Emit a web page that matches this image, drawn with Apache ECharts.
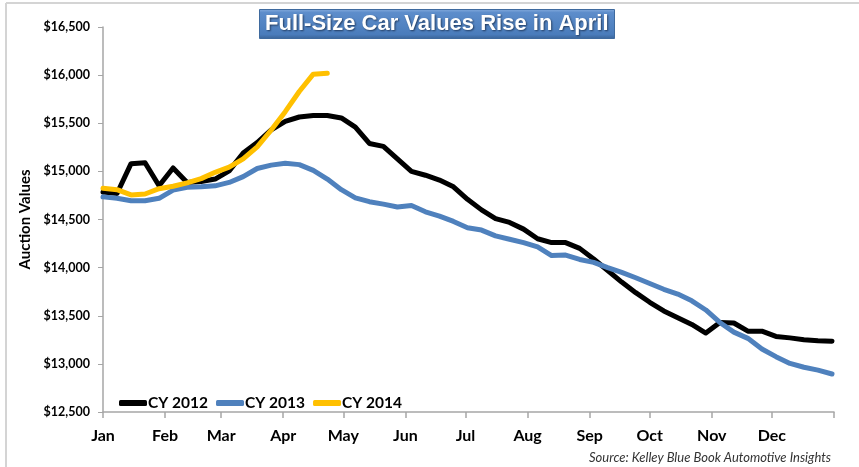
<!DOCTYPE html>
<html>
<head>
<meta charset="utf-8">
<title>Full-Size Car Values Rise in April</title>
<script src="https://cdn.jsdelivr.net/npm/echarts@6/dist/echarts.min.js"></script>
<style>
    html, body { margin: 0; padding: 0; background: #fff; }
    #chart { width: 859px; height: 467px; }
</style>
</head>
<body>
<div id="chart"></div>
<script>
// month names and the day of year each month starts on
const months = ['Jan', 'Feb', 'Mar', 'Apr', 'May', 'Jun', 'Jul', 'Aug', 'Sep', 'Oct', 'Nov', 'Dec']
const monthStart = [0, 31, 59, 90, 120, 151, 181, 212, 243, 273, 304, 334, 365]

// weekly auction values
const cy2012 = [
    14785, 14770, 15080, 15090, 14850, 15035, 14885, 14895, 14920, 15005,
    15190, 15300, 15430, 15520, 15565, 15580, 15580, 15555, 15460, 15290,
    15260, 15130, 15000, 14960, 14910, 14840, 14710, 14600, 14510, 14470,
    14400, 14300, 14260, 14260, 14200, 14090, 13970, 13850, 13740, 13640,
    13550, 13480, 13410, 13320, 13430, 13425, 13340, 13340, 13285, 13270,
    13250, 13240, 13235
]
const cy2013 = [
    14735, 14720, 14695, 14695, 14720, 14805, 14835, 14840, 14850, 14885,
    14945, 15030, 15065, 15085, 15070, 15010, 14920, 14810, 14725, 14685,
    14660, 14630, 14645, 14580, 14535, 14480, 14415, 14390, 14330, 14295,
    14260, 14215, 14125, 14130, 14085, 14055, 14000, 13950, 13895, 13835,
    13775, 13725, 13655, 13560, 13430, 13330, 13265, 13155, 13075, 13005,
    12965, 12935, 12895
]
const cy2014 = [
    14825, 14810, 14755, 14765, 14820, 14845, 14880, 14925, 14990, 15045,
    15130, 15255, 15430, 15620, 15830, 16010, 16020
]

// day of year for each weekly point
const weekDays = cy2012.map((v, i) => i * 7)
const toPairs = arr => arr.map((v, i) => [weekDays[i], v])

const myChart = echarts.init(document.getElementById('chart'))

myChart.setOption({
    animation: false,
    title: [
        {
            text: 'Full-Size Car Values Rise in April',
            left: 259,
            top: 9,
            padding: [4, 6, 4, 6],
            backgroundColor: new echarts.graphic.LinearGradient(0, 0, 0, 1, [
                { offset: 0, color: '#86acdd' },
                { offset: 0.12, color: '#5d8dcb' },
                { offset: 0.85, color: '#4a7cbb' },
                { offset: 1, color: '#3a6396' }
            ]),
            borderColor: '#3f6a9e',
            borderWidth: 1,
            textStyle: {
                fontFamily: 'Liberation Sans',
                fontSize: 22,
                fontWeight: 'bold',
                color: '#fff',
                textShadowColor: 'rgba(20,40,70,0.8)',
                textShadowBlur: 2,
                textShadowOffsetX: 1,
                textShadowOffsetY: 1
            }
        },
        {
            text: 'Source: Kelley Blue Book Automotive Insights',
            right: 28,
            top: 451,
            padding: 0,
            textStyle: {
                fontFamily: 'Lato',
                fontSize: 13,
                fontStyle: 'italic',
                fontWeight: 'normal',
                color: '#333'
            }
        }
    ],
    // light frame around the picture
    graphic: [
        { type: 'line', shape: { x1: 6, y1: 3, x2: 859, y2: 3 }, style: { stroke: '#d4d4d4', lineWidth: 2 } },
        { type: 'line', shape: { x1: 6, y1: 3, x2: 6, y2: 467 }, style: { stroke: '#d4d4d4', lineWidth: 2 } }
    ],
    legend: {
        left: 114,
        top: 390,
        itemWidth: 28,
        itemHeight: 6,
        itemGap: 8,
        icon: 'roundRect',
        textStyle: {
            fontFamily: 'Lato',
            fontSize: 15.5,
            fontWeight: 'bold',
            color: '#000',
            padding: [0, 0, 0, -4]
        },
        data: ['CY 2012', 'CY 2013', 'CY 2014']
    },
    grid: {
        left: 103,
        right: 25,
        top: 27,
        bottom: 55,
        containLabel: false
    },
    xAxis: {
        type: 'value',
        min: 0,
        max: 365,
        splitLine: { show: false },
        axisLine: { lineStyle: { color: '#a6a6a6', width: 1.5 } },
        axisTick: {
            show: true,
            length: 6,
            customValues: monthStart,
            lineStyle: { color: '#a6a6a6', width: 1.5 }
        },
        axisLabel: {
            customValues: monthStart.slice(0, 12),
            margin: 16,
            fontFamily: 'Lato',
            fontSize: 16,
            fontWeight: 'bold',
            color: '#000',
            formatter: function (v) {
                return months[monthStart.indexOf(v)] || ''
            }
        }
    },
    yAxis: {
        type: 'value',
        min: 12500,
        max: 16500,
        interval: 500,
        name: 'Auction Values',
        nameLocation: 'middle',
        nameGap: 58,
        nameTextStyle: {
            fontFamily: 'Lato',
            fontSize: 15,
            fontWeight: 'bold',
            color: '#000'
        },
        splitLine: { show: false },
        axisLine: { show: true, lineStyle: { color: '#a6a6a6', width: 1.5 } },
        axisTick: { show: true, length: 5, lineStyle: { color: '#a6a6a6' } },
        axisLabel: {
            margin: 13,
            fontFamily: 'Lato',
            fontSize: 12.5,
            fontWeight: 'bold',
            color: '#000',
            formatter: function (v) {
                return '$' + String(v).replace(/\B(?=(\d{3})+(?!\d))/g, ',')
            }
        }
    },
    series: [
        {
            name: 'CY 2012',
            type: 'line',
            showSymbol: false,
            symbol: 'none',
            color: '#000',
            lineStyle: { width: 5, color: '#000', cap: 'round', join: 'round' },
            data: toPairs(cy2012)
        },
        {
            name: 'CY 2013',
            type: 'line',
            showSymbol: false,
            symbol: 'none',
            color: '#4f81bd',
            lineStyle: { width: 5, color: '#4f81bd', cap: 'round', join: 'round' },
            data: toPairs(cy2013)
        },
        {
            name: 'CY 2014',
            type: 'line',
            showSymbol: false,
            symbol: 'none',
            color: '#ffc000',
            lineStyle: { width: 5, color: '#ffc000', cap: 'round', join: 'round' },
            data: toPairs(cy2014)
        }
    ]
})
</script>
</body>
</html>
